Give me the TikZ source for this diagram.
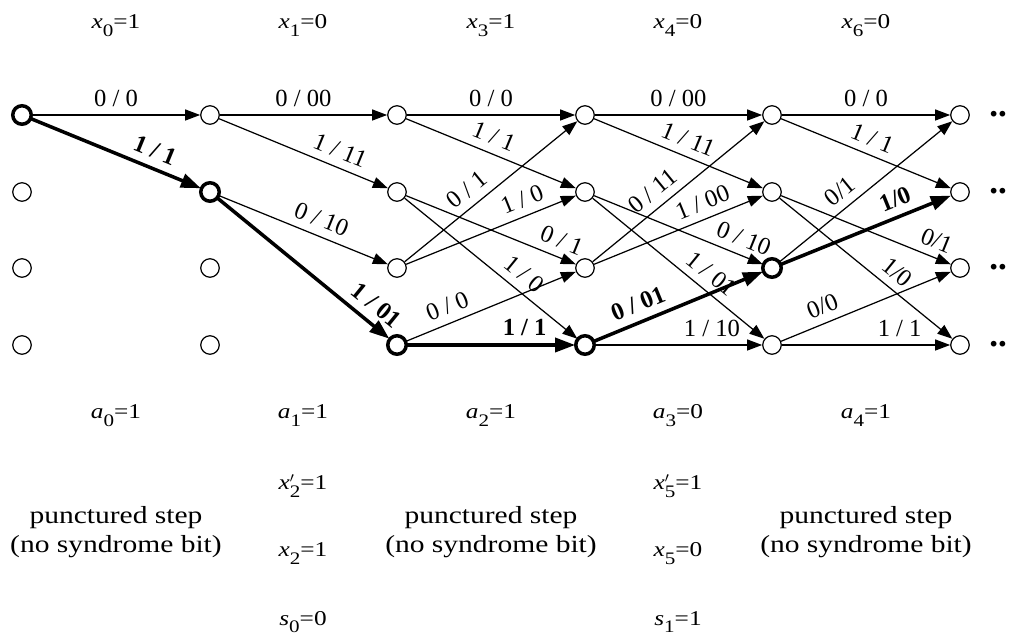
\documentclass[tikz,border=0pt,12pt]{standalone}
\usepackage{fontspec}
\setmainfont{Liberation Serif}
\newfontfamily\wide{Liberation Serif}[FakeStretch=1.2]
\usetikzlibrary{arrows.meta}

% Variable with a low subscript, as in x_0
\newcommand{\sym}[2]{\textit{#1}\raisebox{-4.5pt}{\fontsize{10}{10}\selectfont #2}}
\newcommand{\symp}[2]{\textit{#1}\rlap{$'$}\raisebox{-4.5pt}{\fontsize{10}{10}\selectfont #2}}

\begin{document}
\begin{tikzpicture}[x=0.02cm, y=-0.02cm, font=\fontsize{14}{16}\selectfont,
    state/.style={circle, draw, fill=white, line width=0.7pt, minimum size=0.37cm, inner sep=0pt},
    edge/.style={line width=0.7pt, -{Triangle[length=0.3cm, width=0.22cm]}},
    bestedge/.style={line width=2pt, -{Triangle[length=0.4cm, width=0.28cm]}},
    lab/.style={sloped, above, inner sep=4.5pt},
    bestlab/.style={lab, font=\fontsize{14}{16}\selectfont\bfseries},
    var/.style={anchor=base, font=\fontsize{12}{14}\selectfont\wide},
    note/.style={align=center, font=\fontsize{14}{16.5}\selectfont\wide}]

    % Fix the page size
    \useasboundingbox (0,0) rectangle (1011,634);

    % Draw the trellis states
    \foreach \c/\x in {0/22,1/210,2/397,3/585,4/772,5/960}
        \foreach \r/\y in {0/115,1/192,2/268,3/345}
            \node[state] (s\c\r) at (\x,\y) {};

    % Continuation dots
    \foreach \r/\y in {0/115,1/192,2/268,3/345}
        \node[anchor=base west, inner sep=0pt, font=\fontsize{20}{20}\selectfont\bfseries] (d\r) at (989,\y+2) {..};

    % Step 0 -> 1
    \draw[edge] (s00) -- node[lab] {0 / 0} (s10);

    % Step 1 -> 2
    \draw[edge] (s10) -- node[lab] {0 / 00} (s20);
    \draw[edge] (s10) -- node[lab, pos=0.68] {1 / 11} (s21);
    \draw[edge] (s11) -- node[lab, pos=0.57] {0 / 10} (s22);

    % Step 2 -> 3
    \foreach \a/\b/\l/\p in {0/0/{0 / 0}/0.5, 0/1/{1 / 1}/0.48, 1/2/{0 / 1}/0.88,
            1/3/{1 / 0}/0.63, 2/0/{0 / 1}/0.42, 2/1/{1 / 0}/0.72, 3/2/{0 / 0}/0.28}
        \draw[edge] (s2\a) -- node[lab, pos=\p] {\l} (s3\b);

    % Step 3 -> 4
    \foreach \a/\b/\l/\p in {0/0/{0 / 00}/0.5, 0/1/{1 / 11}/0.52, 1/2/{0 / 10}/0.85,
            1/3/{1 / 01}/0.63, 2/0/{0 / 11}/0.41, 2/1/{1 / 00}/0.68, 3/3/{1 / 10}/0.7}
        \draw[edge] (s3\a) -- node[lab, pos=\p] {\l} (s4\b);

    % Step 4 -> 5
    \foreach \a/\b/\l/\p in {0/0/{0 / 0}/0.5, 0/1/{1 / 1}/0.5, 1/2/{0/1}/0.88,
            1/3/{1/0}/0.62, 2/0/{0/1}/0.41, 3/2/{0/0}/0.28, 3/3/{1 / 1}/0.7}
        \draw[edge] (s4\a) -- node[lab, pos=\p] {\l} (s5\b);

    % Decoded path
    \draw[bestedge] (s00) -- node[bestlab, pos=0.69] {1 / 1} (s11);
    \draw[bestedge] (s11) -- node[bestlab, pos=0.86] {1 / 01} (s23);
    \draw[bestedge] (s23) -- node[bestlab, pos=0.7] {1 / 1} (s33);
    \draw[bestedge] (s33) -- node[bestlab, pos=0.3] {0 / 01} (s42);
    \draw[bestedge] (s42) -- node[bestlab, pos=0.71] {1/0} (s51);
    \foreach \n in {s00,s11,s23,s33,s42}
        \draw[line width=2pt] (\n) circle (0.185cm);

    % Source bits above
    \foreach \i/\x/\k/\v in {0/116/0/1, 1/303/1/0, 2/491/3/1, 3/678/4/0, 4/866/6/0}
        \node[var] (x\i) at (\x,29) {\sym{x}{\k}=\v};

    % Accumulated bits below
    \foreach \i/\x/\v in {0/116/1, 1/303/1, 2/491/1, 3/678/0, 4/866/1}
        \node[var] (a\i) at (\x,419) {\sym{a}{\i}=\v};

    % Syndrome steps
    \node[var] (xp2) at (303,490) {\symp{x}{2}=1};
    \node[var] (xx2) at (303,557) {\sym{x}{2}=1};
    \node[var] (syn0) at (303,625) {\sym{s}{0}=0};
    \node[var] (xp5) at (678,490) {\symp{x}{5}=1};
    \node[var] (xx5) at (678,557) {\sym{x}{5}=0};
    \node[var] (syn1) at (678,625) {\sym{s}{1}=1};

    % Punctured steps
    \foreach \x in {116,491,866}
        \node[note] (p\x) at (\x,532) {punctured step\\(no syndrome bit)};

\end{tikzpicture}
\end{document}
